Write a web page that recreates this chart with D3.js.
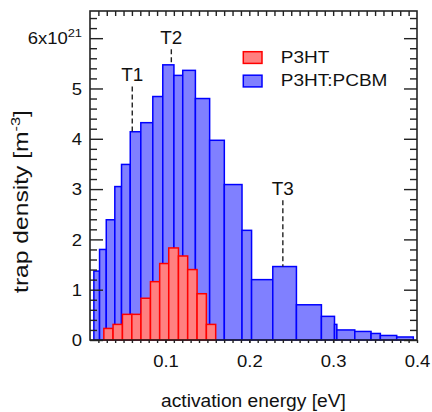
<!DOCTYPE html>
<html>
<head>
<meta charset="utf-8">
<script src="https://cdn.jsdelivr.net/npm/d3@7"></script>
<style>
    body { margin: 0; background: #fff; }
    text { font-family: "Liberation Sans", Arial, sans-serif; fill: #111; }
</style>
</head>
<body>
<div id="chartContainer"></div>
<script>
// P3HT:PCBM bins (variable width), edges in eV and trap density in 1e21 m^-3
const blendEdges = [0.0146, 0.0214, 0.0294, 0.0396, 0.0476, 0.058, 0.0706, 0.0849, 0.0968, 0.1101,
    0.1206, 0.1357, 0.1527, 0.1702, 0.1913, 0.2027, 0.228, 0.2562, 0.286, 0.3016,
    0.3044, 0.3258, 0.3452, 0.3563, 0.3758, 0.3956];
const blendValues = [1.37, 1.80, 2.39, 3.05, 3.49, 4.14, 4.32, 4.84, 5.47, 5.26,
    5.36, 4.80, 3.97, 3.09, 2.18, 1.20, 1.46, 0.70, 0.47, 0.31,
    0.20, 0.17, 0.13, 0.09, 0.06];

// pristine P3HT bins
const p3htEdges = [0.0265, 0.0375, 0.0487, 0.0599, 0.0708, 0.0821, 0.0931, 0.1039,
    0.1155, 0.1265, 0.1377, 0.1488, 0.1599];
const p3htValues = [0.23, 0.31, 0.51, 0.51, 0.83, 1.16, 1.52, 1.83, 1.67, 1.40, 0.92, 0.31];

// trap markers
const trapNames = ['T1', 'T2', 'T3'];
const trapEnergy = [0.0604, 0.107, 0.240];
const trapTop = [5.04, 5.78, 2.78];

const seriesNames = ['P3HT', 'P3HT:PCBM'];
const xTickLabels = [0.1, 0.2, 0.3, 0.4];
const yTickLabels = [0, 1, 2, 3, 4, 5, 6];

const width = 432;
const height = 412;
const margin = {top: 11, right: 15, bottom: 72, left: 90};
const stretch = 1.12;
const ink = '#222';

const svg = d3.select('#chartContainer')
    .append('svg')
    .attr('width', width)
    .attr('height', height);

const x = d3.scaleLinear().domain([0.01, 0.4]).range([margin.left, width - margin.right]);
const y = d3.scaleLinear().domain([0, 6.54]).range([height - margin.bottom, margin.top]);

function toBins(edges, values) {
    return values.map((v, i) => ({x0: edges[i], x1: edges[i + 1], v: v}));
}
const blendBins = toBins(blendEdges, blendValues);
const p3htBins = toBins(p3htEdges, p3htValues);

// blue bars then red bars over them
function drawBars(bins, fill, stroke) {
    svg.append('g')
        .selectAll('rect')
        .data(bins)
        .enter()
        .append('rect')
        .attr('x', d => x(d.x0))
        .attr('y', d => y(d.v))
        .attr('width', d => x(d.x1) - x(d.x0))
        .attr('height', d => y(0) - y(d.v))
        .attr('fill', fill)
        .attr('stroke', stroke)
        .attr('stroke-width', 1.5);
}
drawBars(blendBins, '#8080ff', '#0000ff');
drawBars(p3htBins, '#ff8080', '#ff0000');

// dashed trap markers, they stop on the highest bar under them
function barHeightAt(e) {
    const hit = blendBins.concat(p3htBins).filter(b => e >= b.x0 && e < b.x1);
    return d3.max(hit, b => b.v) || 0;
}
const traps = trapNames.map((n, i) => ({name: n, e: trapEnergy[i], top: trapTop[i]}));
svg.append('g')
    .selectAll('line')
    .data(traps)
    .enter()
    .append('line')
    .attr('x1', d => x(d.e))
    .attr('x2', d => x(d.e))
    .attr('y1', d => y(d.top))
    .attr('y2', d => y(barHeightAt(d.e)))
    .attr('stroke', ink)
    .attr('stroke-width', 1.4)
    .attr('stroke-dasharray', '5,3');
svg.append('g')
    .selectAll('text')
    .data(traps)
    .enter()
    .append('text')
    .attr('transform', d => `translate(${x(d.e)},${y(d.top) - 5}) scale(1.05,1)`)
    .attr('text-anchor', 'middle')
    .style('font-size', '18px')
    .text(d => d.name);

// axes: ticks point inward on left/right/top, small outward ticks at bottom
const minorY = d3.range(0, 33).map(i => i / 5).filter(v => v % 1 !== 0 && v < 6.54);
const minorX = d3.range(2, 40).map(i => i / 100);

function cleanAxis(g) {
    g.select('.domain').remove();
    g.selectAll('line').attr('stroke', ink).attr('stroke-width', 1.4);
}

svg.append('g')
    .attr('transform', `translate(${margin.left},0)`)
    .call(d3.axisLeft(y).tickValues(minorY).tickSize(-7).tickFormat(''))
    .call(cleanAxis);
const yAxis = svg.append('g')
    .attr('transform', `translate(${margin.left},0)`)
    .call(d3.axisLeft(y).tickValues(yTickLabels).tickSize(-13).tickPadding(0).tickFormat(d3.format('d')))
    .call(cleanAxis);
yAxis.selectAll('text')
    .attr('x', null)
    .attr('dy', null)
    .attr('transform', `translate(-8,5.8) scale(${stretch},1)`)
    .style('font-size', '16.5px')
    .attr('fill', '#111');
yAxis.selectAll('.tick text')
    .filter(d => d === 6)
    .text('6x10')
    .append('tspan')
    .attr('dy', '-7')
    .style('font-size', '11.5px')
    .text('21');

svg.append('g')
    .attr('transform', `translate(${width - margin.right},0)`)
    .call(d3.axisRight(y).tickValues(minorY).tickSize(-7).tickFormat(''))
    .call(cleanAxis);
svg.append('g')
    .attr('transform', `translate(${width - margin.right},0)`)
    .call(d3.axisRight(y).tickValues(yTickLabels).tickSize(-13).tickFormat(''))
    .call(cleanAxis);

svg.append('g')
    .attr('transform', `translate(0,${margin.top})`)
    .call(d3.axisTop(x).tickValues(minorX).tickSize(-5).tickFormat(''))
    .call(cleanAxis);

svg.append('g')
    .attr('transform', `translate(0,${height - margin.bottom})`)
    .call(d3.axisBottom(x).tickValues(minorX).tickSize(3).tickFormat(''))
    .call(cleanAxis);
const xAxis = svg.append('g')
    .attr('transform', `translate(0,${height - margin.bottom})`)
    .call(d3.axisBottom(x).tickValues(xTickLabels).tickSize(3).tickFormat(d3.format('.1f')))
    .call(cleanAxis);
xAxis.selectAll('text')
    .attr('y', null)
    .attr('dy', null)
    .attr('transform', `translate(0,26.7) scale(${stretch},1)`)
    .style('font-size', '16.5px')
    .attr('fill', '#111');

// frame
svg.append('rect')
    .attr('x', margin.left)
    .attr('y', margin.top)
    .attr('width', width - margin.left - margin.right)
    .attr('height', height - margin.top - margin.bottom)
    .attr('fill', 'none')
    .attr('stroke', ink)
    .attr('stroke-width', 1.6);

// legend
const legendColors = [['#ff8080', '#ff0000'], ['#8080ff', '#0000ff']];
const legend = svg.append('g')
    .selectAll('g')
    .data(seriesNames)
    .enter()
    .append('g')
    .attr('transform', (d, i) => `translate(243.3,${51.7 + i * 23.5})`);
legend.append('rect')
    .attr('width', 18.7)
    .attr('height', 11.7)
    .attr('fill', (d, i) => legendColors[i][0])
    .attr('stroke', (d, i) => legendColors[i][1])
    .attr('stroke-width', 1.5);
legend.append('text')
    .attr('transform', `translate(37.4,11) scale(${stretch},1)`)
    .style('font-size', '17px')
    .text(d => d);

// axis titles, stretched to the width they take in the figure
function fitWidth(sel, target, base) {
    const w = sel.node().getBBox().width;
    sel.attr('transform', base + ` scale(${target / w},1)`);
}

const xTitle = svg.append('text')
    .attr('text-anchor', 'middle')
    .style('font-size', '17.5px')
    .text('activation energy [eV]');
fitWidth(xTitle, 185, `translate(${(margin.left + width - margin.right) / 2},406.7)`);

const yTitle = svg.append('text')
    .attr('text-anchor', 'middle')
    .style('font-size', '19.5px');
yTitle.append('tspan').text('trap density [m');
yTitle.append('tspan').attr('dy', '-8').style('font-size', '13px').text('-3');
yTitle.append('tspan').attr('dy', '8').text(']');
fitWidth(yTitle, 183, 'translate(28,201.5) rotate(-90)');
</script>
</body>
</html>
